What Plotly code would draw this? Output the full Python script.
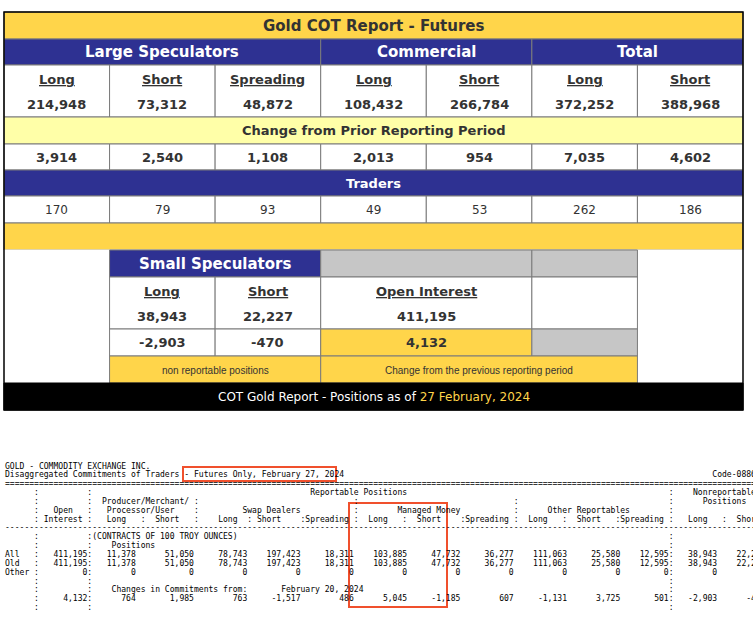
import plotly.graph_objects as go

# Top table data
col_labels = ['Long', 'Short', 'Spreading', 'Long', 'Short', 'Long', 'Short']
positions = ['214,948', '73,312', '48,872', '108,432', '266,784', '372,252', '388,968']
changes = ['3,914', '2,540', '1,108', '2,013', '954', '7,035', '4,602']
traders = ['170', '79', '93', '49', '53', '262', '186']
groups = ['Large Speculators', 'Commercial', 'Total']
group_spans = [(0, 3), (3, 5), (5, 7)]
small_labels = ['Long', 'Short']
small_positions = ['38,943', '22,227']
small_changes = ['-2,903', '-470']
open_interest = '411,195'
oi_change = '4,132'
report_date = '27 February, 2024'

# Text report data
rows_all = ['411,195', '11,378', '51,050', '78,743', '197,423', '18,311', '103,885', '47,732',
            '36,277', '111,063', '25,580', '12,595', '38,943', '22,227']
rows_other = ['0'] * 14
rows_change = ['4,132', '764', '1,985', '763', '-1,517', '486', '5,045', '-1,185',
               '607', '-1,131', '3,725', '501', '-2,903', '-470']

GOLD = '#FFD54A'
NAVY = '#2E3192'
LIGHT = '#FFFFA8'
GRAY = '#C6C6C6'
LINE = '#7a7a7a'
TXT = '#333333'

fig = go.Figure()
shapes = []
ann = []

def rect(x0, y0, x1, y1, fill, line=LINE, w=1):
    shapes.append(dict(type='rect', x0=x0, y0=y0, x1=x1, y1=y1, fillcolor=fill,
                       line=dict(color=line, width=w), layer='below'))

def text(x, y, s, size=13, color=TXT, bold=True, family='DejaVu Sans', anchor='center'):
    ann.append(dict(x=x, y=y, text=('<b>%s</b>' % s) if bold else s, showarrow=False,
                    xanchor=anchor, yanchor='middle',
                    font=dict(size=size, color=color, family=family)))

xs = [4 + i * (739 / 7) for i in range(8)]
cx = [(xs[i] + xs[i + 1]) / 2 for i in range(7)]

# title
rect(4, 12, 743, 39, GOLD)
text(373.5, 25.5, 'Gold COT Report - Futures', size=15)
# group header
for g, (a, b) in zip(groups, group_spans):
    rect(xs[a], 39, xs[b], 65, NAVY)
    text((xs[a] + xs[b]) / 2, 52, g, size=15, color='white')
for i in range(7):
    rect(xs[i], 65, xs[i + 1], 117, 'white')
    text(cx[i], 79, '<u>%s</u>' % col_labels[i], size=13)
    text(cx[i], 104, positions[i], size=13)
rect(4, 117, 743, 144, LIGHT)
text(373.5, 130.5, 'Change from Prior Reporting Period', size=13)
for i in range(7):
    rect(xs[i], 144, xs[i + 1], 170, 'white')
    text(cx[i], 157, changes[i], size=13)
rect(4, 170, 743, 196, NAVY)
text(373.5, 183, 'Traders', size=13, color='white')
for i in range(7):
    rect(xs[i], 196, xs[i + 1], 223, 'white')
    text(cx[i], 210, traders[i], size=12, bold=False)
rect(4, 223, 743, 250, GOLD)

# small speculators block
rect(4, 250, 743, 383, 'white', line='white')
rect(xs[1], 250, xs[3], 277, NAVY)
text((xs[1] + xs[3]) / 2, 264, 'Small Speculators', size=15, color='white')
rect(xs[3], 250, xs[5], 277, GRAY)
rect(xs[5], 250, xs[6], 277, GRAY)
for i in range(2):
    rect(xs[1 + i], 277, xs[2 + i], 329, 'white')
    text(cx[1 + i], 291, '<u>%s</u>' % small_labels[i], size=13)
    text(cx[1 + i], 316, small_positions[i], size=13)
    rect(xs[1 + i], 329, xs[2 + i], 356, 'white')
    text(cx[1 + i], 342, small_changes[i], size=13)
rect(xs[3], 277, xs[5], 329, 'white')
text((xs[3] + xs[5]) / 2, 291, '<u>Open Interest</u>', size=13)
text((xs[3] + xs[5]) / 2, 316, open_interest, size=13)
rect(xs[5], 277, xs[6], 329, 'white')
rect(xs[3], 329, xs[5], 356, GOLD)
text((xs[3] + xs[5]) / 2, 342, oi_change, size=13)
rect(xs[5], 329, xs[6], 356, GRAY)
rect(xs[1], 356, xs[3], 383, GOLD)
text((xs[1] + xs[3]) / 2, 370, 'non reportable positions', size=10, bold=False,
     family='Liberation Sans')
rect(xs[3], 356, xs[6], 383, GOLD)
text((xs[3] + xs[6]) / 2, 370, 'Change from the previous reporting period', size=10,
     bold=False, family='Liberation Sans')
rect(4, 383, 743, 410, 'black', line='black')
text(373.5, 397, 'COT Gold Report - Positions as of <span style="color:%s">%s</span>'
     % (GOLD, report_date), size=12, color='white', bold=False)
shapes.append(dict(type='rect', x0=4, y0=12, x1=743, y1=410,
                   line=dict(color='black', width=1.5)))

# text report
W = 158

def blank():
    return [' '] * W

def put(buf, col, s, right=False):
    start = col - len(s) if right else col
    for k, ch in enumerate(s):
        if 0 <= start + k < W:
            buf[start + k] = ch

# exclusive end columns of each number field
ends = [18, 27, 39, 50, 61, 72, 83, 94, 105, 116, 127, 138, 147, 157]

def colons(buf, full=True):
    put(buf, 6, ':')
    put(buf, 17, ':')
    if full:
        put(buf, 137, ':')

def data_line(label, vals):
    b = blank()
    put(b, 0, label)
    put(b, 6, ':')
    for k, v in enumerate(vals):
        s = v + (':' if k in (0, 11) else '')
        put(b, ends[k], s, right=True)
    return b

lines = []
b = blank(); put(b, 0, 'GOLD - COMMODITY EXCHANGE INC.'); lines.append(b)
b = blank(); put(b, 0, 'Disaggregated Commitments of Traders - Futures Only, February 27, 2024')
put(b, 157, 'Code-088691', right=True); lines.append(b)
lines.append(list('=' * 157))
b = blank(); colons(b); put(b, 63, 'Reportable Positions'); put(b, 142, 'Nonreportable'); lines.append(b)
b = blank(); colons(b); put(b, 20, 'Producer/Merchant/ :'); put(b, 72, ':'); put(b, 105, ':')
put(b, 144, 'Positions'); lines.append(b)
b = blank(); colons(b); put(b, 10, 'Open'); put(b, 21, 'Processor/User'); put(b, 39, ':')
put(b, 49, 'Swap Dealers'); put(b, 72, ':'); put(b, 81, 'Managed Money'); put(b, 105, ':')
put(b, 112, 'Other Reportables'); lines.append(b)
b = blank(); colons(b); put(b, 8, 'Interest')
for c, s in [(21, 'Long'), (28, ':'), (31, 'Short'), (39, ':'), (44, 'Long'), (50, ':'),
             (52, 'Short'), (61, ':Spreading :'), (75, 'Long'), (82, ':'), (85, 'Short'),
             (94, ':Spreading :'), (108, 'Long'), (115, ':'), (118, 'Short'),
             (126, ':Spreading :'), (141, 'Long'), (148, ':'), (151, 'Short')]:
    put(b, c, s)
lines.append(b)
lines.append(list('-' * 157))
b = blank(); colons(b); put(b, 18, '(CONTRACTS OF 100 TROY OUNCES)'); lines.append(b)
b = blank(); colons(b); put(b, 22, 'Positions'); lines.append(b)
lines.append(data_line('All', rows_all))
lines.append(data_line('Old', rows_all))
lines.append(data_line('Other', rows_other))
b = blank(); colons(b); lines.append(b)
b = blank(); colons(b); put(b, 22, 'Changes in Commitments from:'); put(b, 57, 'February 20, 2024')
lines.append(b)
lines.append(data_line('', rows_change))
b = blank(); colons(b); lines.append(b)

for k, b in enumerate(lines):
    ann.append(dict(x=3, y=466 + k * 8.85, text=''.join(b).rstrip().replace(' ', '&nbsp;'),
                    showarrow=False, xanchor='left', yanchor='middle',
                    font=dict(size=8.05, color='black', family='DejaVu Sans Mono')))

RED = '#F0502D'
shapes.append(dict(type='rect', x0=183, y0=467, x1=336, y1=481, line=dict(color=RED, width=2)))
shapes.append(dict(type='rect', x0=349, y0=503, x1=447, y1=607, line=dict(color=RED, width=2)))

fig.update_layout(
    width=753, height=620, margin=dict(l=0, r=0, t=0, b=0),
    paper_bgcolor='white', plot_bgcolor='white',
    xaxis=dict(range=[0, 753], visible=False, fixedrange=True),
    yaxis=dict(range=[620, 0], visible=False, fixedrange=True),
    shapes=shapes, annotations=ann, showlegend=False,
)
fig.write_html('out.html', config={'displayModeBar': False},
               post_script="document.body.style.margin='0';document.body.style.overflow='hidden';")
